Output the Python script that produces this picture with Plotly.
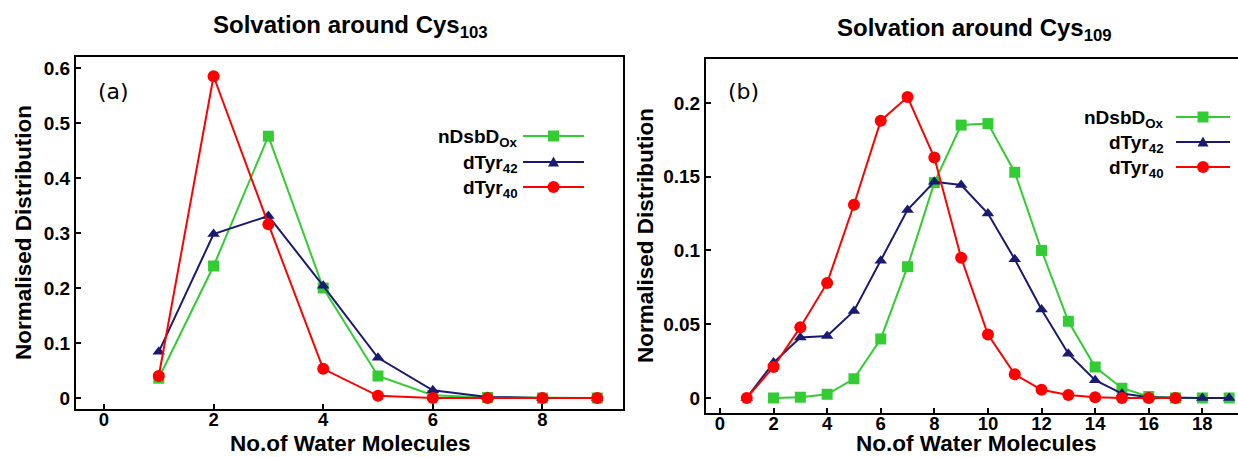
import plotly.graph_objects as go

W, H = 1238, 457

# ---------------- data ----------------
x_a = [1, 2, 3, 4, 5, 6, 7, 8, 9]
a_ndsbd = [0.036, 0.240, 0.476, 0.200, 0.040, 0.005, 0.001, 0.0, 0.0]
a_dtyr42 = [0.084, 0.298, 0.331, 0.204, 0.073, 0.014, 0.002, 0.0, 0.0]
a_dtyr40 = [0.040, 0.585, 0.316, 0.053, 0.004, 0.0, 0.0, 0.0, 0.0]

x_b_ndsbd = list(range(2, 20))
b_ndsbd = [0.0, 0.0005, 0.0025, 0.013, 0.040, 0.089, 0.146, 0.185, 0.186, 0.153,
           0.100, 0.052, 0.021, 0.0066, 0.001, 0.0, 0.0, 0.0]
x_b_dtyr42 = list(range(1, 20))
b_dtyr42 = [0.0, 0.024, 0.041, 0.042, 0.059, 0.093, 0.1275, 0.1466, 0.1444, 0.125,
            0.094, 0.060, 0.030, 0.012, 0.003, 0.0005, 0.0, 0.0, 0.0]
x_b_dtyr40 = list(range(1, 18))
b_dtyr40 = [0.0, 0.021, 0.048, 0.078, 0.131, 0.188, 0.204, 0.163, 0.095, 0.043,
            0.016, 0.0055, 0.002, 0.0005, 0.0, 0.0, 0.0]

series_names = ["nDsbD<sub>Ox</sub>", "dTyr<sub>42</sub>", "dTyr<sub>40</sub>"]
titles = ["Solvation around Cys<sub>103</sub>", "Solvation around Cys<sub>109</sub>"]
panel_labels = ["(a)", "(b)"]
x_title = "No.of Water Molecules"
y_title = "Normalised Distribution"

# ---------------- styles ----------------
GREEN = "#33CC33"
NAVY = "#1A1A72"
RED = "#FF0000"
colors = [GREEN, NAVY, RED]
symbols = ["square", "triangle-up", "circle"]
msizes = [11, 11, 12]
FONT = "Liberation Sans, Arial, Helvetica, sans-serif"


def px(x):
    return x / W


def py(y):
    return 1 - y / H


fig = go.Figure()

panel_a = [(x_a, a_ndsbd), (x_a, a_dtyr42), (x_a, a_dtyr40)]
panel_b = [(x_b_ndsbd, b_ndsbd), (x_b_dtyr42, b_dtyr42), (x_b_dtyr40, b_dtyr40)]

for axn, panel in [("", panel_a), ("2", panel_b)]:
    for i, (xs, ys) in enumerate(panel):
        fig.add_trace(go.Scatter(
            x=xs, y=ys, mode="lines+markers", name=series_names[i],
            xaxis="x" + axn, yaxis="y" + axn, showlegend=False,
            line=dict(color=colors[i], width=2),
            marker=dict(symbol=symbols[i], size=msizes[i], color=colors[i],
                        line=dict(width=0)),
        ))

axis_common = dict(
    showline=True, linecolor="black", linewidth=2, mirror=True,
    ticks="inside", ticklen=5, tickwidth=1.5, tickcolor="black",
    showgrid=False, zeroline=False,
    tickfont=dict(family=FONT, size=19, color="black", weight="bold"),
)
xaxis_extra = dict(ticklabelstandoff=-7,
                   tickfont=dict(family=FONT, size=18.5, color="black", weight="bold"))
x_common = {**axis_common, **xaxis_extra}

fig.update_layout(
    width=W, height=H,
    margin=dict(l=0, r=0, t=0, b=0),
    paper_bgcolor="white", plot_bgcolor="white",
    xaxis=dict(domain=[px(76), px(623)], range=[-0.51, 9.47], tick0=0, dtick=2,
               anchor="y", **x_common),
    yaxis=dict(domain=[py(409), py(57)], range=[-0.02, 0.62], tick0=0, dtick=0.1,
               anchor="x", **axis_common),
    xaxis2=dict(domain=[px(706), 1.0], range=[-0.52, 19.33], tick0=0, dtick=2,
                anchor="y2", **x_common),
    yaxis2=dict(domain=[py(413), py(59)], range=[-0.0102, 0.2298], tick0=0, dtick=0.05,
                anchor="x2", **{**axis_common, "mirror": False}),
)

ann = []
shapes = []

# titles
for (cx, cy), t in zip([(350, 26), (974, 29)], titles):
    ann.append(dict(x=px(cx), y=py(cy), xref="paper", yref="paper", text=t,
                    showarrow=False, xanchor="center", yanchor="middle",
                    font=dict(family=FONT, size=24, color="black", weight="bold")))
# x titles
for cx in [350, 976]:
    ann.append(dict(x=px(cx), y=py(443), xref="paper", yref="paper", text=x_title,
                    showarrow=False, xanchor="center", yanchor="middle",
                    font=dict(family=FONT, size=22.5, color="black", weight="bold")))
# y titles
for cx, cy in [(24, 233), (645, 236)]:
    ann.append(dict(x=px(cx), y=py(cy), xref="paper", yref="paper", text=y_title,
                    showarrow=False, xanchor="center", yanchor="middle", textangle=-90,
                    font=dict(family=FONT, size=22.5, color="black", weight="bold")))
# panel labels
for (cx, cy), t in zip([(113, 91), (743, 91)], panel_labels):
    ann.append(dict(x=px(cx), y=py(cy), xref="paper", yref="paper", text=t,
                    showarrow=False, xanchor="center", yanchor="middle",
                    font=dict(family="DejaVu Sans", size=22, color="black")))

# legends
legend_specs = [
    dict(text_r=520, x0=523, x1=584, rows=[136, 162, 187]),
    dict(text_r=1166, x0=1176, x1=1230, rows=[117, 142, 167]),
]
for spec in legend_specs:
    for i, ry in enumerate(spec["rows"]):
        ann.append(dict(x=px(spec["text_r"]), y=py(ry + 2), xref="paper", yref="paper",
                        text=series_names[i], showarrow=False,
                        xanchor="right", yanchor="middle",
                        font=dict(family=FONT, size=19, color="black", weight="bold")))
        shapes.append(dict(type="line", xref="paper", yref="paper",
                           x0=px(spec["x0"]), x1=px(spec["x1"]), y0=py(ry), y1=py(ry),
                           line=dict(color=colors[i], width=2)))
        mx = (spec["x0"] + spec["x1"]) / 2
        if symbols[i] == "square":
            shapes.append(dict(type="rect", xref="paper", yref="paper",
                               x0=px(mx - 5.5), x1=px(mx + 5.5), y0=py(ry + 5.5), y1=py(ry - 5.5),
                               fillcolor=colors[i], line=dict(width=0)))
        elif symbols[i] == "circle":
            shapes.append(dict(type="circle", xref="paper", yref="paper",
                               x0=px(mx - 6), x1=px(mx + 6), y0=py(ry + 6), y1=py(ry - 6),
                               fillcolor=colors[i], line=dict(width=0)))
        else:
            path = "M {a},{b} L {c},{b} L {d},{e} Z".format(
                a=px(mx - 5.5), b=py(ry + 4.5), c=px(mx + 5.5), d=px(mx), e=py(ry - 5.5))
            shapes.append(dict(type="path", xref="paper", yref="paper", path=path,
                               fillcolor=colors[i], line=dict(width=0)))

fig.update_layout(annotations=ann, shapes=shapes)

fig.write_html("out.html")
